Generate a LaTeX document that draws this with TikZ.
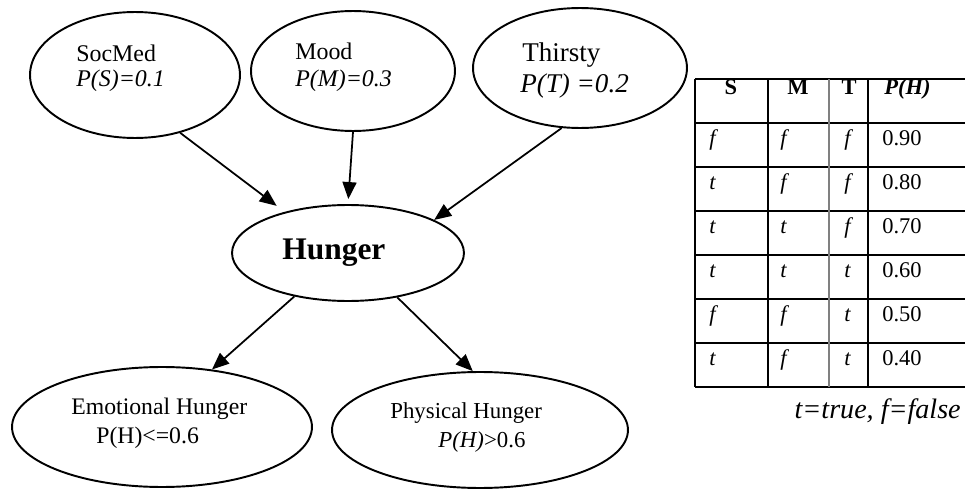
\documentclass[tikz,border=0pt]{standalone}
\usepackage{fontspec}
\setmainfont{Liberation Serif}[ItalicFont={Liberation Serif Italic}, BoldItalicFont={Liberation Serif Bold Italic}]
\usetikzlibrary{shapes.geometric,arrows.meta}

\tikzset{
  var/.style={draw, ellipse, line width=1.1pt, inner sep=0pt},
  edge/.style={line width=1pt, -{Triangle[length=0.34cm,width=0.28cm]}},
  lbl/.style={anchor=base west, inner sep=0pt, font=\fontsize{13.6}{16}\selectfont},
  cell/.style={anchor=base west, inner sep=0pt, font=\fontsize{12.8}{15}\selectfont},
  head/.style={anchor=base, inner sep=0pt, font=\fontsize{12.8}{15}\selectfont\bfseries},
  tab/.style={line width=0.85pt},
}

\begin{document}
\begin{tikzpicture}[x=0.02cm,y=-0.02cm]
      \useasboundingbox (0,0) rectangle (965,490);
      % parent variables
      \node[var, minimum width=4.2cm, minimum height=2.52cm] (soc) at (135,75) {};
      \node[var, minimum width=4.08cm, minimum height=2.4cm] (mood) at (353,71) {};
      \node[var, minimum width=4.28cm, minimum height=2.4cm] (thirsty) at (580,68) {};
      \node[lbl] (socname) at (76,61) {SocMed};
      \node[lbl] (socprob) at (76,87) {\textit{P(S)=0.1}};
      \node[lbl] (moodname) at (295,59) {Mood};
      \node[lbl] (moodprob) at (295,87) {\textit{P(M)=0.3}};
      \node[lbl, font=\fontsize{15.4}{18}\selectfont] (thirstyname) at (522,61) {Thirsty};
      \node[lbl, font=\fontsize{15.4}{18}\selectfont] (thirstyprob) at (520,92) {\textit{P(T) =0.2}};
      % hunger
      \node[var, minimum width=4.64cm, minimum height=1.92cm] (hunger) at (348,253) {};
      \node[lbl, font=\fontsize{17.9}{20}\selectfont\bfseries] (hungername) at (282,259) {Hunger};
      % children
      \node[var, minimum width=6.0cm, minimum height=2.4cm] (emo) at (162,427) {};
      \node[var, minimum width=5.92cm, minimum height=2.32cm] (phys) at (480,430) {};
      \node[lbl, font=\fontsize{13.5}{16}\selectfont] (emoname) at (71,414) {Emotional Hunger};
      \node[lbl, font=\fontsize{13.5}{16}\selectfont] (emoprob) at (96,443) {P(H)<=0.6};
      \node[lbl, font=\fontsize{13}{16}\selectfont] (physname) at (390,418) {Physical Hunger};
      \node[lbl, font=\fontsize{13}{16}\selectfont] (physprob) at (438,447) {\textit{P(H)}>0.6};
      % edges
      \draw[edge, shorten >=0.2cm] (soc.-52) -- (hunger.147);
      \draw[edge, shorten >=0.1cm] (mood.south) -- (hunger.north);
      \draw[edge] (thirsty.-107) -- (hunger.21);
      \draw[edge] (hunger.-141) -- (emo.49);
      \draw[edge] (hunger.-42) -- (phys.97);
      % CPT table
      \foreach \i in {0,...,7} \draw[tab] (695,{79+44*\i}) -- (965,{79+44*\i});
      \draw[tab] (695,79) -- (695,387);
      \draw[tab] (768,79) -- (768,387);
      \draw[tab] (868,79) -- (868,387);
      \draw[gray, line width=0.6pt] (829,79) -- (829,387);
      \node[head] (hs) at (731,94) {S};
      \node[head] (hm) at (798,94) {M};
      \node[head] (ht) at (849,94) {T};
      \node[cell, font=\fontsize{12.8}{15}\selectfont\bfseries\itshape] (hp) at (884,94) {P(H)};
      \foreach \s/\m/\t/\p [count=\r] in {f/f/f/0.90, t/f/f/0.80, t/t/f/0.70, t/t/t/0.60, f/f/t/0.50, t/f/t/0.40} {
        \node[cell] (s\r) at (709,{101+44*\r}) {\textit{\s}};
        \node[cell] (m\r) at (780,{101+44*\r}) {\textit{\m}};
        \node[cell] (t\r) at (844,{101+44*\r}) {\textit{\t}};
        \node[cell] (p\r) at (882,{101+44*\r}) {\p};
      }
      \node[anchor=base east, inner sep=0pt, font=\fontsize{16}{19}\selectfont\itshape] (legend) at (961,418) {t=true, f=false};
    \end{tikzpicture}
\end{document}
